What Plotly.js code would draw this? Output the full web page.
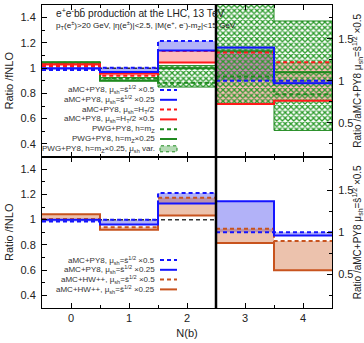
<!DOCTYPE html>
<html>
<head>
<meta charset="utf-8">
<script src="https://cdn.plot.ly/plotly-3.0.1.min.js"></script>
<style>html,body{margin:0;padding:0;background:#fff;}#chart{width:364px;height:343px;}</style>
</head>
<body>
<div id="chart"></div>
<script>
// ---------------- data ----------------
const nbCategories = [0, 1, 2, 3, 4];
const leftBins = [0, 1, 2];      // drawn against left axis (ratio / fNLO)
const rightBins = [3, 4];        // drawn against right axis (ratio / aMC+PY8 ŝ^1/2 x0.5)
const splitEdge = 2.5;

// upper panel, bins 0-2 (ratio / fNLO)
const upL_blueDash   = [0.985, 1.003, 1.215];
const upL_blueSolid  = [1.000, 0.970, 1.140];
const upL_redDash    = [1.017, 0.940, 1.135];
const upL_redSolid   = [1.030, 0.958, 1.045];
const upL_greenDash  = [1.035, 0.920, 0.885];
const upL_greenSolid = [1.045, 0.900, 1.000];
const upL_greenLo    = [1.030, 0.900, 0.850];
const upL_greenHi    = [1.050, 0.925, 1.020];
const upL_fnlo       = [1.0, 1.0, 1.0];

// upper panel, bins 3-4 (ratio / aMC+PY8 ŝ^1/2 x0.5)
const upR_blueDash   = [1.000, 1.000];
const upR_blueSolid  = [1.396, 0.970];
const upR_redDash    = [1.337, 1.220];
const upR_redSolid   = [0.724, 0.763];
const upR_greenDash  = [1.050, 0.840];
const upR_greenSolid = [1.350, 1.100];
const upR_greenLo    = [0.720, 0.410];
const upR_greenHi    = [2.000, 1.710];

// lower panel, bins 0-2 (ratio / fNLO)
const loL_blueDash    = [0.985, 1.000, 1.210];
const loL_blueSolid   = [1.000, 0.962, 1.128];
const loL_orangeDash  = [1.005, 0.939, 1.173];
const loL_orangeSolid = [1.042, 0.920, 1.032];
const loL_fnlo        = [1.0, 1.0, 1.0];

// lower panel, bins 3-4 (ratio / aMC+PY8 ŝ^1/2 x0.5)
const loR_blueDash    = [1.000, 1.000];
const loR_blueSolid   = [1.367, 0.960];
const loR_orangeDash  = [1.042, 0.895];
const loR_orangeSolid = [0.872, 0.548];

// tick labels
const xTickVals = [0, 1, 2, 3, 4];
const leftTickVals = [0.4, 0.6, 0.8, 1.0, 1.2, 1.4];
const rightTickVals = [0.5, 1.0, 1.5];

const upperLegendLabels = [
  "aMC+PY8, μ<sub>sh</sub>=ŝ<sup>1/2</sup> ×0.5",
  "aMC+PY8, μ<sub>sh</sub>=ŝ<sup>1/2</sup> ×0.25",
  "aMC+PY8, μ<sub>sh</sub>=H<sub>T</sub>/2",
  "aMC+PY8, μ<sub>sh</sub>=H<sub>T</sub>/2 ×0.5",
  "PWG+PY8, h=m<sub>Z</sub>",
  "PWG+PY8, h=m<sub>Z</sub>×0.25",
  "PWG+PY8, h=m<sub>Z</sub>×0.25, μ<sub>sh</sub> var."
];
const lowerLegendLabels = [
  "aMC+PY8, μ<sub>sh</sub>=ŝ<sup>1/2</sup> ×0.5",
  "aMC+PY8, μ<sub>sh</sub>=ŝ<sup>1/2</sup> ×0.25",
  "aMC+HW++, μ<sub>sh</sub>=ŝ<sup>1/2</sup> ×0.5",
  "aMC+HW++, μ<sub>sh</sub>=ŝ<sup>1/2</sup> ×0.25"
];

// ---------------- styles ----------------
const C = {
  blue: '#1414ff', blueFill: 'rgba(20,20,235,0.33)',
  red: '#ff1a1a', redFill: 'rgba(255,30,30,0.30)',
  green: '#1f8a1f', hatch: '#2a9a2a',
  orange: '#c8531e', orangeFill: 'rgba(205,95,40,0.38)',
  black: '#333'
};
const FONT = 'Liberation Sans, Arial, sans-serif';
const DASH = '4px,3px';

// ---------------- helpers ----------------
function edgesOf(bins) {
  const e = bins.map(b => b - 0.5);
  e.push(bins[bins.length - 1] + 0.5);
  return e;
}
function stepTrace(bins, vals, xa, ya, color, dash, width) {
  const x = edgesOf(bins);
  const y = vals.concat([vals[vals.length - 1]]);
  return {x: x, y: y, xaxis: xa, yaxis: ya, type: 'scatter', mode: 'lines',
    line: {shape: 'hv', color: color, width: width || 2, dash: dash || 'solid'},
    hoverinfo: 'skip', showlegend: false};
}
function bandTrace(bins, lo, hi, xa, ya, fill, pattern) {
  const e = edgesOf(bins);
  const x = [], y = [];
  for (let i = 0; i < bins.length; i++) { x.push(e[i], e[i + 1]); y.push(hi[i], hi[i]); }
  for (let i = bins.length - 1; i >= 0; i--) { x.push(e[i + 1], e[i]); y.push(lo[i], lo[i]); }
  x.push(x[0]); y.push(y[0]);
  const t = {x: x, y: y, xaxis: xa, yaxis: ya, type: 'scatter', mode: 'lines',
    fill: 'toself', fillcolor: fill, line: {width: 0}, hoverinfo: 'skip', showlegend: false};
  if (pattern) {
    t.fillcolor = 'rgba(0,0,0,0)';
    t.fillpattern = {shape: 'x', fgcolor: pattern, size: 4, solidity: 0.55};
    t.line = {width: 1, color: C.green};
  }
  return t;
}

// ---------------- traces ----------------
const traces = [
  // upper panel fills
  bandTrace(leftBins, upL_blueDash, upL_blueSolid, 'x2', 'y3', C.blueFill),
  bandTrace(leftBins, upL_redDash, upL_redSolid, 'x2', 'y3', C.redFill),
  bandTrace(leftBins, upL_greenLo, upL_greenHi, 'x2', 'y3', null, C.hatch),
  bandTrace(rightBins, upR_blueDash, upR_blueSolid, 'x2', 'y4', C.blueFill),
  bandTrace(rightBins, upR_redSolid, upR_redDash, 'x2', 'y4', C.redFill),
  bandTrace(rightBins, upR_greenLo, upR_greenHi, 'x2', 'y4', null, C.hatch),
  // upper panel lines
  stepTrace(leftBins, upL_fnlo, 'x2', 'y3', C.black, DASH, 1.5),
  stepTrace(leftBins, upL_greenSolid, 'x2', 'y3', C.green),
  stepTrace(leftBins, upL_greenDash, 'x2', 'y3', C.green, DASH),
  stepTrace(leftBins, upL_redSolid, 'x2', 'y3', C.red),
  stepTrace(leftBins, upL_redDash, 'x2', 'y3', C.red, DASH),
  stepTrace(leftBins, upL_blueSolid, 'x2', 'y3', C.blue),
  stepTrace(leftBins, upL_blueDash, 'x2', 'y3', C.blue, DASH),
  stepTrace(rightBins, upR_greenSolid, 'x2', 'y4', C.green),
  stepTrace(rightBins, upR_greenDash, 'x2', 'y4', C.green, DASH),
  stepTrace(rightBins, upR_redSolid, 'x2', 'y4', C.red),
  stepTrace(rightBins, upR_redDash, 'x2', 'y4', C.red, DASH),
  stepTrace(rightBins, upR_blueSolid, 'x2', 'y4', C.blue),
  stepTrace(rightBins, upR_blueDash, 'x2', 'y4', C.blue, DASH),
  // lower panel fills
  bandTrace(leftBins, loL_blueSolid, loL_blueDash, 'x', 'y', C.blueFill),
  bandTrace(leftBins, loL_orangeDash, loL_orangeSolid, 'x', 'y', C.orangeFill),
  bandTrace(rightBins, loR_blueDash, loR_blueSolid, 'x', 'y2', C.blueFill),
  bandTrace(rightBins, loR_orangeSolid, loR_orangeDash, 'x', 'y2', C.orangeFill),
  // lower panel lines
  stepTrace(leftBins, loL_fnlo, 'x', 'y', C.black, DASH, 1.5),
  stepTrace(leftBins, loL_orangeSolid, 'x', 'y', C.orange),
  stepTrace(leftBins, loL_orangeDash, 'x', 'y', C.orange, DASH),
  stepTrace(leftBins, loL_blueSolid, 'x', 'y', C.blue),
  stepTrace(leftBins, loL_blueDash, 'x', 'y', C.blue, DASH),
  stepTrace(rightBins, loR_orangeSolid, 'x', 'y2', C.orange),
  stepTrace(rightBins, loR_orangeDash, 'x', 'y2', C.orange, DASH),
  stepTrace(rightBins, loR_blueSolid, 'x', 'y2', C.blue),
  stepTrace(rightBins, loR_blueDash, 'x', 'y2', C.blue, DASH)
];

// ---------------- layout ----------------
const M = {l: 42, r: 32, t: 5, b: 35};
const W = 364, H = 343;
const pw = W - M.l - M.r, ph = H - M.t - M.b;
const px2x = px => (px - M.l) / pw;
const px2y = py => (H - M.b - py) / ph;

const tickFont = {family: FONT, size: 11, color: '#222'};
const baseX = {
  range: [-0.5, 4.5], tickvals: xTickVals, ticks: 'inside', ticklen: 5, tickcolor: '#000',
  minor: {dtick: 0.5, tick0: 0.5, ticks: 'inside', ticklen: 3, tickcolor: '#000'},
  showline: true, linecolor: '#000', linewidth: 1, mirror: 'ticks',
  showgrid: false, zeroline: false, tickfont: tickFont, automargin: false
};
const leftY = {
  range: [0.3, 1.5], tickvals: leftTickVals, ticks: 'inside', ticklen: 5, tickcolor: '#000',
  minor: {dtick: 0.1, ticks: 'inside', ticklen: 3, tickcolor: '#000'},
  showline: true, linecolor: '#000', linewidth: 1, showgrid: false, zeroline: false,
  tickfont: tickFont, automargin: false, ticklabelstandoff: 3,
  title: {text: 'Ratio /fNLO', font: {family: FONT, size: 11, color: '#222'}, standoff: 4}
};
const rightY = {
  range: [0.1, 1.9], tickvals: rightTickVals, ticks: 'inside', ticklen: 5, tickcolor: '#000',
  minor: {dtick: 0.25, tick0: 0.25, ticks: 'inside', ticklen: 3, tickcolor: '#000'},
  side: 'right', showline: true, linecolor: '#000', linewidth: 1, showgrid: false, zeroline: false,
  tickfont: tickFont, automargin: false, ticklabelstandoff: 3,
  title: {text: 'Ratio /aMC+PY8 μ<sub>sh</sub>=ŝ<sup>1/2</sup> ×0.5', font: {family: FONT, size: 10, color: '#222'}, standoff: 4}
};

const layout = {
  width: W, height: H, margin: M, paper_bgcolor: '#fff', plot_bgcolor: '#fff',
  showlegend: false, font: {family: FONT, color: '#222'},
  xaxis: Object.assign({}, baseX, {anchor: 'y', domain: [0, 1],
    title: {text: 'N(b)', font: {family: FONT, size: 11, color: '#222'}, standoff: 6}}),
  xaxis2: Object.assign({}, baseX, {anchor: 'y3', domain: [0, 1], matches: 'x', showticklabels: false}),
  yaxis: Object.assign({}, leftY, {domain: [0, 0.5], anchor: 'x'}),
  yaxis2: Object.assign({}, rightY, {domain: [0, 0.5], anchor: 'x', overlaying: 'y'}),
  yaxis3: Object.assign({}, leftY, {domain: [0.5, 1], anchor: 'x2'}),
  yaxis4: Object.assign({}, rightY, {domain: [0.5, 1], anchor: 'x2', overlaying: 'y3'}),
  shapes: [
    {type: 'line', xref: 'x', yref: 'paper', x0: splitEdge, x1: splitEdge, y0: 0, y1: 1,
     line: {color: '#000', width: 2.5}}
  ],
  annotations: [
    {xref: 'paper', yref: 'paper', x: px2x(54), y: px2y(13), xanchor: 'left', yanchor: 'middle',
     showarrow: false, text: 'e<sup>+</sup>e<sup>-</sup>bb̄ production at the LHC, 13 TeV',
     font: {family: FONT, size: 10.2, color: '#222'}},
    {xref: 'paper', yref: 'paper', x: px2x(54), y: px2y(25), xanchor: 'left', yanchor: 'middle',
     showarrow: false,
     text: 'p<sub>T</sub>(e<sup>±</sup>)&gt;20 GeV, |η(e<sup>±</sup>)|&lt;2.5, |M(e<sup>+</sup>, e<sup>-</sup>)-m<sub>Z</sub>|&lt;15 GeV',
     font: {family: FONT, size: 8.1, color: '#222'}}
  ]
};

// legends (gnuplot style: text right-aligned, sample on the right)
const upperLegendStyle = [
  {color: C.blue, dash: DASH}, {color: C.blue, dash: 'solid'},
  {color: C.red, dash: DASH}, {color: C.red, dash: 'solid'},
  {color: C.green, dash: DASH}, {color: C.green, dash: 'solid'},
  {hatch: true}
];
const lowerLegendStyle = [
  {color: C.blue, dash: DASH}, {color: C.blue, dash: 'solid'},
  {color: C.orange, dash: DASH}, {color: C.orange, dash: 'solid'}
];
function addLegend(labels, styles, y0, dy) {
  labels.forEach((lab, i) => {
    const yy = y0 + i * dy;
    layout.annotations.push({xref: 'paper', yref: 'paper', x: px2x(157), y: px2y(yy),
      xanchor: 'right', yanchor: 'middle', showarrow: false, text: lab,
      font: {family: FONT, size: 8, color: '#333'}});
    const s = styles[i];
    if (s.hatch) {
      layout.shapes.push({type: 'rect', xref: 'paper', yref: 'paper',
        x0: px2x(160), x1: px2x(177), y0: px2y(yy + 3), y1: px2y(yy - 3),
        fillcolor: 'rgba(40,150,40,0.35)', line: {color: C.green, width: 1, dash: 'dot'}});
    } else {
      layout.shapes.push({type: 'line', xref: 'paper', yref: 'paper',
        x0: px2x(160), x1: px2x(177), y0: px2y(yy), y1: px2y(yy),
        line: {color: s.color, width: 2, dash: s.dash}});
    }
  });
}
addLegend(upperLegendLabels, upperLegendStyle, 90, 9.8);
addLegend(lowerLegendLabels, lowerLegendStyle, 260, 9.8);

Plotly.newPlot('chart', traces, layout, {staticPlot: true, displayModeBar: false});
</script>
</body>
</html>
